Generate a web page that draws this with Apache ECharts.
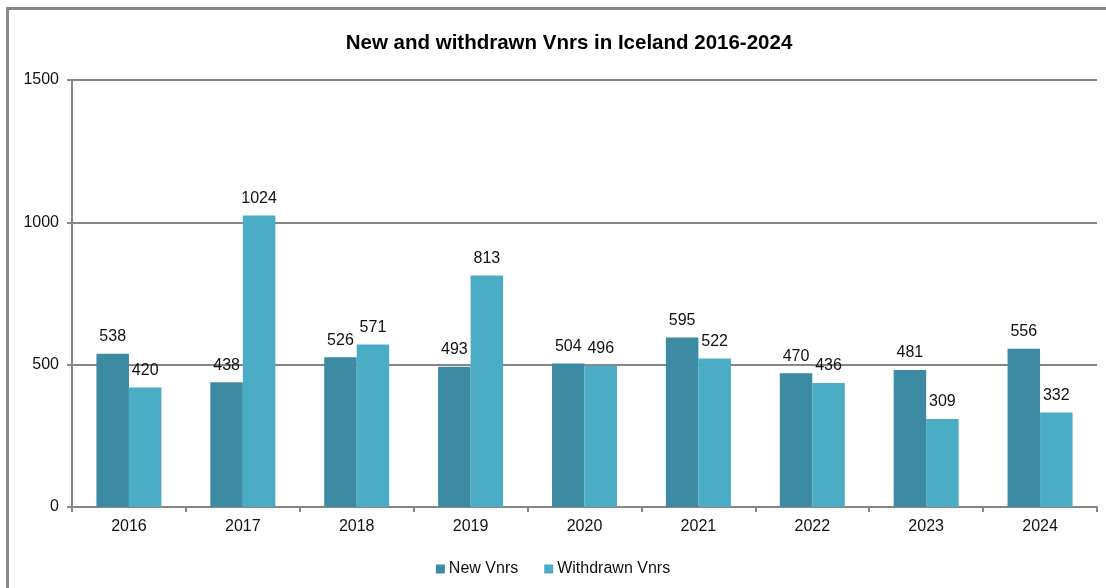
<!DOCTYPE html>
<html>
<head>
<meta charset="utf-8">
<script src="https://cdn.jsdelivr.net/npm/echarts@6/dist/echarts.min.js"></script>
<style>
  html, body { margin: 0; padding: 0; background: #fff; }
  #chart { position: absolute; left: 0; top: 0; width: 1106px; height: 588px; }
  #frame { position: absolute; left: 6px; top: 7px; width: 1100px; height: 581px;
           border-left: 3px solid #888; border-top: 3px solid #888; pointer-events: none; }
</style>
</head>
<body>
<div id="chart"></div>
<div id="frame"></div>
<script>
var years = ['2016', '2017', '2018', '2019', '2020', '2021', '2022', '2023', '2024'];
var newVnrs = [538, 438, 526, 493, 504, 595, 470, 481, 556];
var withdrawnVnrs = [420, 1024, 571, 813, 496, 522, 436, 309, 332];

var mychart = echarts.init(document.getElementById('chart'));

var labelStyle = {
    show: true,
    position: 'top',
    distance: 9,
    color: '#111',
    fontSize: 16,
    fontFamily: 'Liberation Sans, Arial'
};

option = {
    backgroundColor: '#fff',
    animation: false,
    title: {
        text: 'New and withdrawn Vnrs in Iceland 2016-2024',
        left: 564,
        textAlign: 'center',
        top: 28,
        textStyle: {
            fontFamily: 'Liberation Sans Narrow, Arial Narrow, Liberation Sans',
            fontWeight: 'bold',
            fontSize: 20.5,
            color: '#000'
        }
    },
    grid: {
        left: 72,
        right: 9,
        top: 80,
        bottom: 81
    },
    legend: {
        top: 556,
        left: 'center',
        itemWidth: 9,
        itemHeight: 9,
        itemGap: 26,
        icon: 'rect',
        textStyle: {
            fontSize: 16,
            color: '#111',
            fontFamily: 'Liberation Sans, Arial',
            padding: [0, 0, 0, -1]
        }
    },
    xAxis: {
        type: 'category',
        data: years,
        axisLine: { lineStyle: { color: '#868686', width: 2 } },
        axisTick: { show: true, length: 5, inside: false, lineStyle: { color: '#868686', width: 2 } },
        axisLabel: { color: '#111', fontSize: 16, margin: 12, fontFamily: 'Liberation Sans, Arial' }
    },
    yAxis: {
        type: 'value',
        min: 0,
        max: 1500,
        interval: 500,
        axisLine: { show: true, lineStyle: { color: '#868686', width: 2 } },
        axisTick: { show: true, length: 5, lineStyle: { color: '#868686', width: 2 } },
        axisLabel: {
            color: '#111', fontSize: 16, margin: 13, fontFamily: 'Liberation Sans, Arial',
            formatter: function (v) { return String(v); }
        },
        splitLine: { lineStyle: { color: '#868686', width: 2 } }
    },
    series: [
        {
            name: 'New Vnrs',
            type: 'bar',
            data: newVnrs,
            barWidth: 32.5,
            barGap: '0%',
            itemStyle: { color: '#3C8BA2' },
            label: labelStyle
        },
        {
            name: 'Withdrawn Vnrs',
            type: 'bar',
            data: withdrawnVnrs,
            barWidth: 32.5,
            barGap: '0%',
            itemStyle: { color: '#4BACC6' },
            label: labelStyle
        }
    ]
};
mychart.setOption(option, true);
</script>
</body>
</html>
